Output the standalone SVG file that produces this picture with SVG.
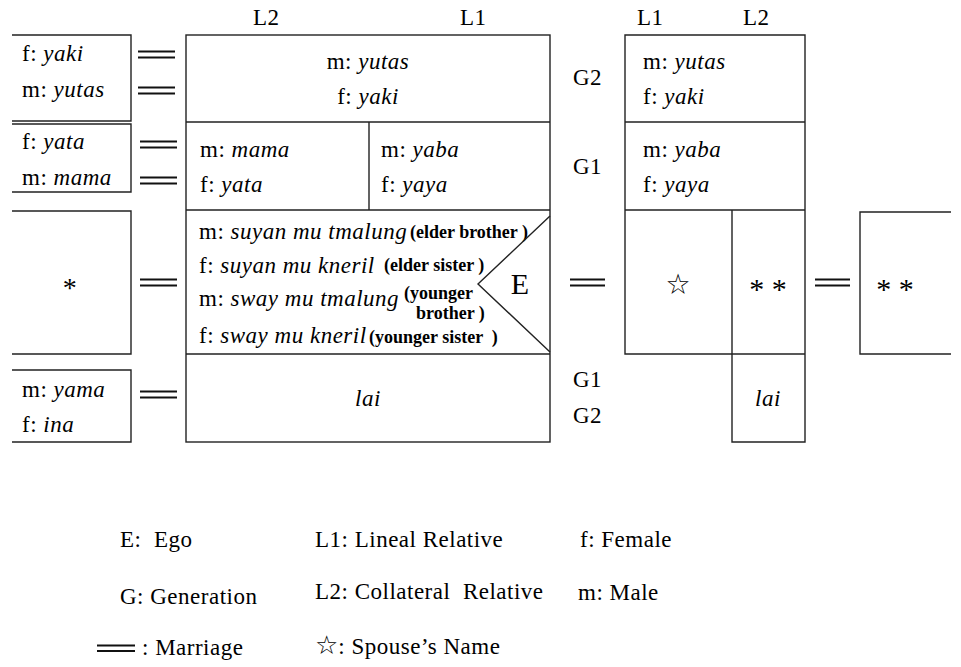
<svg xmlns="http://www.w3.org/2000/svg" width="961" height="667" viewBox="0 0 961 667">
<style>
text{font-family:'Liberation Serif','Times New Roman',serif;font-size:23px;letter-spacing:0.5px;fill:#000}
.i{font-style:italic}
.b{font-weight:bold;font-size:18px;letter-spacing:0}
.c{text-anchor:middle}
.ln{stroke:#222;stroke-width:1.4;fill:none}
.m{stroke:#111;stroke-width:2.2}
.sym{font-family:'DejaVu Sans',sans-serif;letter-spacing:0}
</style>
<rect width="961" height="667" fill="#fff"/>

<g id="headers">
<text x="253" y="25">L2</text>
<text x="460" y="25">L1</text>
<text x="637" y="25">L1</text>
<text x="743" y="25">L2</text>
<text x="573" y="85">G2</text>
<text x="573" y="174">G1</text>
<text x="573" y="387">G1</text>
<text x="573" y="423">G2</text>
</g>

<g id="left-g2">
<path class="ln" d="M12 35H131V121H12"/>
<text x="22" y="61">f: <tspan class="i">yaki</tspan></text>
<text x="22" y="97">m: <tspan class="i">yutas</tspan></text>
</g>
<g id="left-g1">
<path class="ln" d="M12 124H131V192H12"/>
<text x="22" y="149">f: <tspan class="i">yata</tspan></text>
<text x="22" y="185">m: <tspan class="i">mama</tspan></text>
</g>
<g id="left-g0">
<path class="ln" d="M12 211H131V354H12"/>
<text x="70" y="297" class="c" style="font-size:28px">*</text>
</g>
<g id="left-gm1">
<path class="ln" d="M12 370H131V442H12"/>
<text x="22" y="397">m: <tspan class="i">yama</tspan></text>
<text x="22" y="432">f: <tspan class="i">ina</tspan></text>
</g>

<g id="main-grid">
<rect class="ln" x="186" y="35" width="364" height="407"/>
<path class="ln" d="M186 122H550M186 210H550M186 354H550M369 122V210"/>
</g>
<g id="main-g2">
<text x="368" y="69" class="c">m: <tspan class="i">yutas</tspan></text>
<text x="368" y="104" class="c">f: <tspan class="i">yaki</tspan></text>
</g>
<g id="main-g1-l2">
<text x="200" y="157">m: <tspan class="i">mama</tspan></text>
<text x="200" y="192">f: <tspan class="i">yata</tspan></text>
</g>
<g id="main-g1-l1">
<text x="381" y="157">m: <tspan class="i">yaba</tspan></text>
<text x="381" y="192">f: <tspan class="i">yaya</tspan></text>
</g>
<g id="main-g0">
<text x="199" y="239">m: <tspan class="i">suyan mu tmalung</tspan></text>
<text x="410" y="238" class="b">(elder brother )</text>
<text x="199" y="273">f: <tspan class="i">suyan mu kneril</tspan></text>
<text x="384" y="271" class="b">(elder sister )</text>
<text x="199" y="306">m: <tspan class="i">sway mu tmalung</tspan></text>
<text x="404" y="299" class="b">(younger</text>
<text x="416" y="319" class="b">brother )</text>
<text x="199" y="343">f: <tspan class="i">sway mu kneril</tspan></text>
<text x="369" y="343" class="b" xml:space="preserve">(younger sister  )</text>
</g>
<g id="ego">
<path class="ln" d="M550 216L478 284L550 352"/>
<text x="520" y="294" class="c" style="font-size:30px;letter-spacing:0">E</text>
</g>
<g id="main-gm1">
<text x="368" y="406" class="c i">lai</text>
</g>

<g id="right-grid">
<path class="ln" d="M625 35H805V354H625ZM625 122H805M625 210H805M732 210V442H805V354"/>
</g>
<g id="right-g2">
<text x="643" y="69">m: <tspan class="i">yutas</tspan></text>
<text x="643" y="104">f: <tspan class="i">yaki</tspan></text>
</g>
<g id="right-g1">
<text x="643" y="157">m: <tspan class="i">yaba</tspan></text>
<text x="643" y="192">f: <tspan class="i">yaya</tspan></text>
</g>
<g id="right-spouse">
<text x="678" y="294" class="c sym" style="font-size:28px">☆</text>
</g>
<g id="right-sibling">
<text x="768" y="299" class="c" style="font-size:30px;letter-spacing:0" xml:space="preserve">* *</text>
</g>
<g id="right-gm1">
<text x="768" y="406" class="c i">lai</text>
</g>
<g id="far-right">
<path class="ln" d="M951 212H860V354H951"/>
<text x="895" y="299" class="c" style="font-size:30px;letter-spacing:0" xml:space="preserve">* *</text>
</g>

<g id="connectors">
<path class="m" d="M138 51.5H175M138 57.5H175M138 87.5H175M138 93.5H175M140 141.5H177M140 147.5H177M140 177.5H177M140 183.5H177M140 279.5H177M140 285.5H177M140 391.5H177M140 397.5H177M570 279.5H605M570 285.5H605M815 279.5H850M815 285.5H850"/>
</g>

<g id="legend">
<text x="120" y="547" xml:space="preserve">E:  Ego</text>
<text x="120" y="604">G: Generation</text>
<path class="m" d="M97 645.5H135M97 651H135"/>
<text x="142" y="655">: Marriage</text>
<text x="315" y="547">L1: Lineal Relative</text>
<text x="315" y="599" xml:space="preserve">L2: Collateral  Relative</text>
<text x="315" y="654" xml:space="preserve"><tspan class="sym" style="font-size:26px">☆</tspan>: Spouse’s Name</text>
<text x="580" y="547">f: Female</text>
<text x="578" y="600">m: Male</text>
</g>
</svg>
